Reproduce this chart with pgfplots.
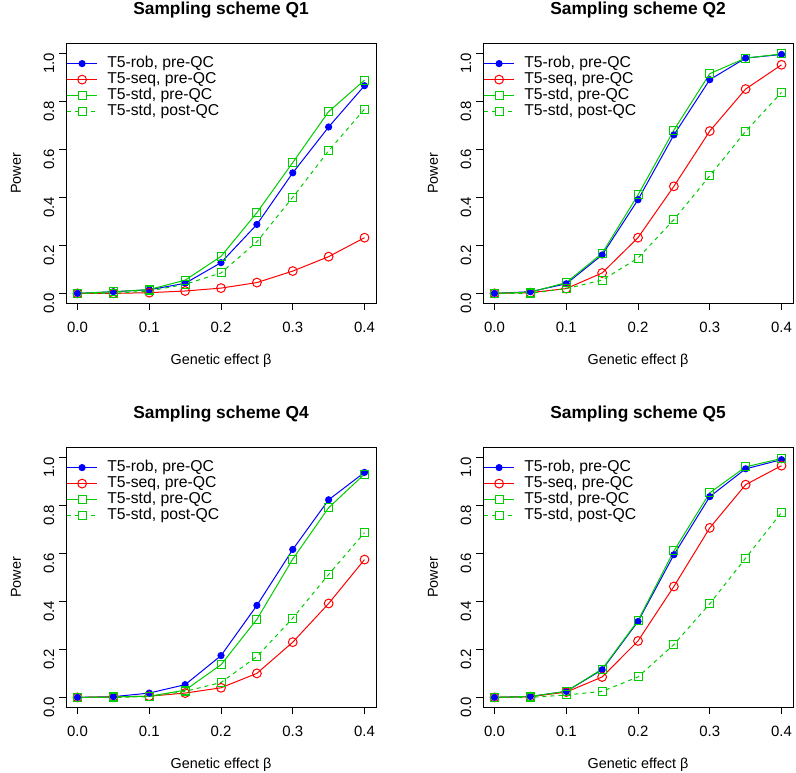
\documentclass[border=0pt]{standalone}
\usepackage{pgfplots}
\pgfplotsset{compat=1.18}
\usepackage{fontspec}
\setmainfont{Liberation Sans}
\definecolor{Rblue}{HTML}{0000FF}
\definecolor{Rred}{HTML}{FF0000}
\definecolor{Rgreen}{HTML}{00CD00}
\pgfplotsset{
  rstyle/.style={
    scale only axis, width=232.5pt, height=194.5pt,
    xmin=-0.016, xmax=0.416, ymin=-0.04, ymax=1.04,
    xtick={0,0.1,0.2,0.3,0.4}, ytick={0,0.2,0.4,0.6,0.8,1.0},
    /pgf/number format/fixed, /pgf/number format/fixed zerofill, /pgf/number format/precision=1,
    /pgf/number format/assume math mode=true,
    xtick pos=bottom, ytick pos=left,
    tick align=outside, major tick length=5.25pt,
    tick style={black, line width=0.6pt},
    axis line style={line width=0.6pt, black},
    every tick label/.append style={font=\fontsize{11.2pt}{12pt}\selectfont},
    xticklabel style={yshift=-5.5pt},
    yticklabel style={rotate=90, anchor=south, xshift=-7.5pt},
    xlabel={Genetic effect β},
    ylabel={Power},
    xlabel style={at={(axis description cs:0.5,-0.222)}, anchor=center, font=\fontsize{10.8pt}{12pt}\selectfont},
    ylabel style={at={(axis description cs:-0.161,0.5)}, anchor=center, rotate=0, font=\fontsize{10.8pt}{12pt}\selectfont},
    title style={at={(axis description cs:0.5,1.097)}, anchor=center, font=\fontsize{13pt}{14pt}\selectfont\bfseries},
    legend style={at={(axis description cs:0.0,0.955)}, anchor=north west, draw=none, fill=none, text=black,
      font=\fontsize{11.8pt}{13pt}\selectfont, row sep=0pt, column sep=6.5pt, inner sep=0pt,
      nodes={inner sep=0.5pt, text height=8.5pt, text depth=2.5pt}},
    legend cell align=left,
  },
  rob/.style={color=Rblue, line width=0.75pt, mark=*, mark size=2.3pt, mark options={solid, draw=Rblue, fill=Rblue},
    legend image code/.code={
      \draw[draw=Rblue, line width=0.75pt] (-0.5pt,0pt) -- (22.5pt,0pt);
      \fill[fill=Rblue] (11pt,0pt) circle[radius=2.3pt];}},
  seq/.style={color=Rred, line width=0.75pt, mark=o, mark size=3.3pt, mark options={solid, draw=Rred, line width=0.75pt},
    legend image code/.code={
      \draw[draw=Rred, line width=0.75pt] (-0.5pt,0pt) -- (22.5pt,0pt);
      \draw[draw=Rred, line width=0.75pt] (11pt,0pt) circle[radius=3.3pt];}},
  stdpre/.style={color=Rgreen, line width=0.75pt, mark=square, mark size=3pt, mark options={solid, draw=Rgreen, line width=0.75pt},
    legend image code/.code={
      \draw[draw=Rgreen, line width=0.75pt] (-0.5pt,0pt) -- (22.5pt,0pt);
      \draw[draw=Rgreen, line width=0.75pt, fill=white] (8pt,-3pt) rectangle (14pt,3pt);}},
  stdpost/.style={color=Rgreen, line width=0.75pt, dash pattern=on 3pt off 3pt, mark=square, mark size=3pt, mark options={solid, draw=Rgreen, line width=0.75pt},
    legend image code/.code={
      \draw[draw=Rgreen, line width=0.75pt, dash pattern=on 3pt off 3pt] (-0.5pt,0pt) -- (22.5pt,0pt);
      \draw[draw=Rgreen, line width=0.75pt, solid, fill=white] (8pt,-3pt) rectangle (14pt,3pt);}},
}
\begin{document}
\begin{tikzpicture}
\path[use as bounding box] (0pt,0pt) rectangle (597pt,-579.75pt);
% Q1
\begin{scope}
\begin{axis}[rstyle, at={(49.5pt,-227.25pt)}, anchor=south west, title={Sampling scheme Q1}]
\addplot[rob] coordinates {(0,0) (0.05,0.007) (0.1,0.015) (0.15,0.042) (0.2,0.128) (0.25,0.287) (0.3,0.502) (0.35,0.693) (0.4,0.865)};
\addplot[seq] coordinates {(0,0) (0.05,0.0) (0.1,0.003) (0.15,0.010) (0.2,0.022) (0.25,0.045) (0.3,0.093) (0.35,0.153) (0.4,0.232)};
\addplot[stdpre] coordinates {(0,0) (0.05,0.007) (0.1,0.016) (0.15,0.055) (0.2,0.154) (0.25,0.336) (0.3,0.545) (0.35,0.757) (0.4,0.888)};
\addplot[stdpost] coordinates {(0,0) (0.05,0.0) (0.1,0.010) (0.15,0.038) (0.2,0.085) (0.25,0.215) (0.3,0.400) (0.35,0.594) (0.4,0.767)};
\legend{{T5-rob, pre-QC}, {T5-seq, pre-QC}, {T5-std, pre-QC}, {T5-std, post-QC}}
\end{axis}
\end{scope}
% Q2
\begin{scope}
\begin{axis}[rstyle, at={(362.25pt,-227.25pt)}, anchor=south west, title={Sampling scheme Q2}]
\addplot[rob] coordinates {(0,0) (0.05,0.007) (0.1,0.040) (0.15,0.160) (0.2,0.390) (0.25,0.660) (0.3,0.890) (0.35,0.980) (0.4,0.995)};
\addplot[seq] coordinates {(0,0) (0.05,0.003) (0.1,0.020) (0.15,0.085) (0.2,0.232) (0.25,0.446) (0.3,0.676) (0.35,0.851) (0.4,0.952)};
\addplot[stdpre] coordinates {(0,0) (0.05,0.005) (0.1,0.045) (0.15,0.167) (0.2,0.410) (0.25,0.680) (0.3,0.915) (0.35,0.980) (0.4,0.997)};
\addplot[stdpost] coordinates {(0,0) (0.05,0.0) (0.1,0.020) (0.15,0.055) (0.2,0.147) (0.25,0.307) (0.3,0.490) (0.35,0.675) (0.4,0.837)};
\legend{{T5-rob, pre-QC}, {T5-seq, pre-QC}, {T5-std, pre-QC}, {T5-std, post-QC}}
\end{axis}
\end{scope}
% Q4
\begin{scope}
\begin{axis}[rstyle, at={(49.5pt,-530.25pt)}, anchor=south west, title={Sampling scheme Q4}]
\addplot[rob] coordinates {(0,0) (0.05,0.003) (0.1,0.018) (0.15,0.053) (0.2,0.174) (0.25,0.383) (0.3,0.616) (0.35,0.823) (0.4,0.937)};
\addplot[seq] coordinates {(0,0) (0.05,0.002) (0.1,0.005) (0.15,0.018) (0.2,0.040) (0.25,0.100) (0.3,0.230) (0.35,0.391) (0.4,0.574)};
\addplot[stdpre] coordinates {(0,0) (0.05,0.002) (0.1,0.005) (0.15,0.030) (0.2,0.136) (0.25,0.325) (0.3,0.576) (0.35,0.790) (0.4,0.930)};
\addplot[stdpost] coordinates {(0,0) (0.05,0.0) (0.1,0.003) (0.15,0.025) (0.2,0.062) (0.25,0.170) (0.3,0.330) (0.35,0.512) (0.4,0.686)};
\legend{{T5-rob, pre-QC}, {T5-seq, pre-QC}, {T5-std, pre-QC}, {T5-std, post-QC}}
\end{axis}
\end{scope}
% Q5
\begin{scope}
\begin{axis}[rstyle, at={(362.25pt,-530.25pt)}, anchor=south west, title={Sampling scheme Q5}]
\addplot[rob] coordinates {(0,0) (0.05,0.004) (0.1,0.025) (0.15,0.115) (0.2,0.316) (0.25,0.594) (0.3,0.836) (0.35,0.952) (0.4,0.990)};
\addplot[seq] coordinates {(0,0) (0.05,0.003) (0.1,0.022) (0.15,0.085) (0.2,0.235) (0.25,0.462) (0.3,0.706) (0.35,0.886) (0.4,0.965)};
\addplot[stdpre] coordinates {(0,0) (0.05,0.004) (0.1,0.025) (0.15,0.118) (0.2,0.320) (0.25,0.610) (0.3,0.852) (0.35,0.960) (0.4,0.995)};
\addplot[stdpost] coordinates {(0,0) (0.05,0.0) (0.1,0.010) (0.15,0.025) (0.2,0.085) (0.25,0.220) (0.3,0.390) (0.35,0.580) (0.4,0.770)};
\legend{{T5-rob, pre-QC}, {T5-seq, pre-QC}, {T5-std, pre-QC}, {T5-std, post-QC}}
\end{axis}
\end{scope}
\end{tikzpicture}
\end{document}
